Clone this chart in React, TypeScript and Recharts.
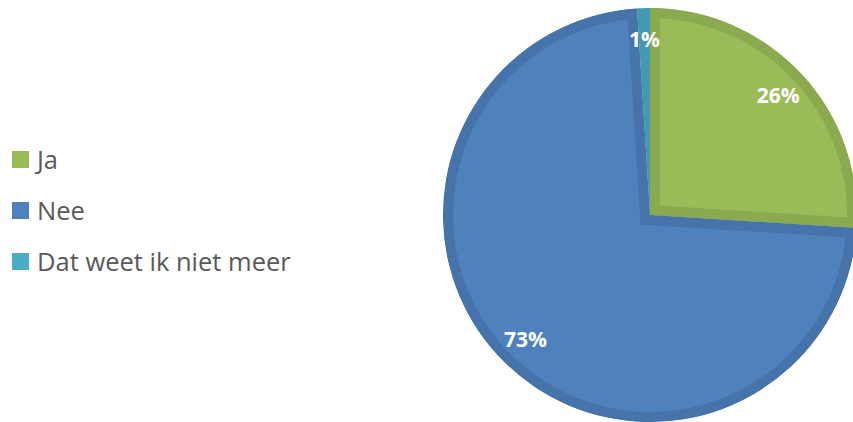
import React from 'react'
import { PieChart, Pie, Cell, Legend, Sector } from 'recharts'

const categories = ['Ja', 'Nee', 'Dat weet ik niet meer']
const percentages = [26, 73, 1]
const fills = ['#9BBB59', '#4F81BD', '#4BACC6']
const edges = ['#8BA94F', '#4673AA', '#4399B1']

const data = categories.map((name, i) => ({ name, value: percentages[i] }))

const RAD = Math.PI / 180
const LABEL_R = 176

const renderShape = (props: any) => {
  const { cx, cy, outerRadius, startAngle, endAngle, index } = props
  const id = `slice-clip-${index}`
  return (
    <g>
      <defs>
        <clipPath id={id}>
          <Sector cx={cx} cy={cy} innerRadius={0} outerRadius={outerRadius} startAngle={startAngle} endAngle={endAngle} />
        </clipPath>
      </defs>
      <Sector
        cx={cx} cy={cy} innerRadius={0} outerRadius={outerRadius}
        startAngle={startAngle} endAngle={endAngle}
        fill={fills[index]} stroke={edges[index]} strokeWidth={20} strokeLinejoin="miter"
        clipPath={`url(#${id})`}
      />
    </g>
  )
}

const renderLabel = (props: any) => {
  const { cx, cy, midAngle, value } = props
  const x = cx + LABEL_R * Math.cos(-midAngle * RAD)
  const y = cy + LABEL_R * Math.sin(-midAngle * RAD)
  return (
    <text x={x} y={y} fill="#FFFFFF" textAnchor="middle" dominantBaseline="central"
      style={{ fontFamily: '"Open Sans", sans-serif', fontWeight: 700, fontSize: 21 }}>
      {`${value}%`}
    </text>
  )
}

const renderLegend = () => (
  <div>
    {categories.map((c, i) => (
      <div key={c} style={{ display: 'flex', alignItems: 'center', height: 51 }}>
        <span style={{ width: 17, height: 17, background: fills[i], display: 'inline-block', marginRight: 8 }} />
        <span style={{ fontFamily: '"Open Sans", sans-serif', fontSize: 25.5, lineHeight: '25px', color: '#595959', whiteSpace: 'nowrap' }}>{c}</span>
      </div>
    ))}
  </div>
)

export default function App() {
  return (
    <div style={{ position: 'absolute', left: 0, top: 0, width: 853, height: 422, background: '#fff', overflow: 'hidden' }}>
      <PieChart width={853} height={422} margin={{ top: 0, right: 0, bottom: 0, left: 0 }}>
        <Pie
          data={data} dataKey="value" nameKey="name"
          cx={650} cy={215} outerRadius={207} innerRadius={0}
          startAngle={90} endAngle={-270}
          stroke="none" labelLine={false} label={renderLabel}
          shape={renderShape}
          isAnimationActive={false}
        >
          {data.map((d, i) => <Cell key={d.name} fill={fills[i]} />)}
        </Pie>
        <Legend content={renderLegend} wrapperStyle={{ position: 'absolute', left: 12, top: 134, width: 320 }} />
      </PieChart>
    </div>
  )
}
